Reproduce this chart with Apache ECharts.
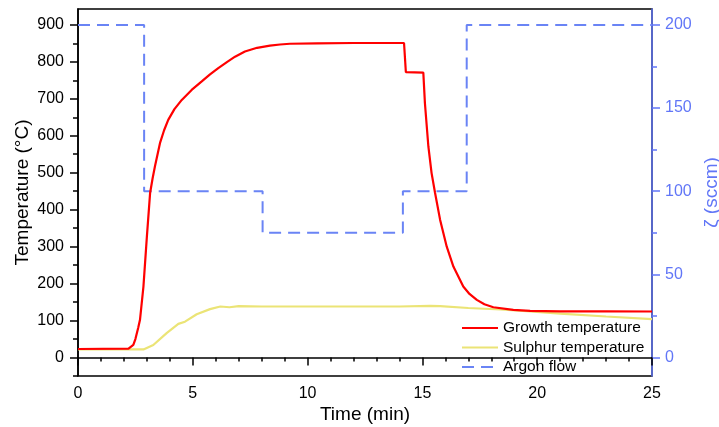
<!DOCTYPE html>
<html>
<head>
<meta charset="utf-8">
<script src="https://cdn.jsdelivr.net/npm/echarts@6/dist/echarts.min.js"></script>
<style>
html,body{margin:0;padding:0;background:#fff;}
#chart{width:719px;height:427px;}
</style>
</head>
<body>
<div id="chart"></div>
<script>
// Growth temperature (°C) vs time (min)
const growthTime = [0, 2.2, 2.41, 2.5, 2.62, 2.70, 2.85, 3.0, 3.14, 3.25, 3.35, 3.57, 3.75, 3.93, 4.2, 4.52, 4.95, 5.39, 5.75, 6.11, 6.5, 6.84, 7.27, 7.8, 8.36, 8.8, 9.23, 10.4, 12, 14.2, 14.28, 15.04, 15.11, 15.26, 15.4, 15.55, 15.77, 16.06, 16.35, 16.78, 17.05, 17.37, 17.7, 18.09, 18.96, 19.69, 21, 23, 25];
const growthTemp = [23, 24, 34, 50, 80, 102, 192, 327, 445, 485, 517, 580, 615, 643, 672, 697, 724, 747, 766, 783, 800, 814, 828, 838, 844, 847, 849, 850, 851, 851, 772, 771, 688, 571, 499, 446, 373, 300, 246, 192, 172, 156, 144, 136, 129, 126, 125, 125, 124.5];
// Sulphur temperature (°C) vs time (min)
const sulphurTime = [0, 2.85, 3.28, 3.86, 4.37, 4.66, 5.17, 5.75, 6.2, 6.6, 7.0, 8, 10, 12, 14, 15.33, 15.77, 17, 18.4, 19.69, 21, 23, 25];
const sulphurTemp = [22, 22, 34, 66, 91, 97, 117, 131, 138, 136, 139, 138, 138, 138, 138, 140, 139, 134, 130, 124.5, 119, 111, 104];
// Argon flow (sccm) vs time (min), step changes
const argonTime = [0, 2.88, 8.04, 14.15, 16.93, 25];
const argonFlow = [200, 100, 75, 100, 200, 200];
// Tick labels
const tempTicks = [0, 100, 200, 300, 400, 500, 600, 700, 800, 900];
const tempMinor = [-50, 0, 50, 100, 150, 200, 250, 300, 350, 400, 450, 500, 550, 600, 650, 700, 750, 800, 850, 900];
const flowTicks = [0, 50, 100, 150, 200];
const flowMinor = [0, 25, 50, 75, 100, 125, 150, 175, 200];

const pairs = (xs, ys) => xs.map((x, i) => [x, ys[i]]);

const BLUE = '#6176f7';
const FONT = 'Liberation Sans, Arial, sans-serif';
const tempMin = -50, tempMax = 943;
const flowMin = tempMin / 4.5, flowMax = tempMax / 4.5;

const chart = echarts.init(document.getElementById('chart'));
chart.setOption({
  animation: false,
  backgroundColor: '#fff',
  textStyle: { fontFamily: FONT },
  grid: {
    left: 78, right: 67, top: 9, bottom: 51,
    outerBoundsMode: 'none', containLabel: false,
    show: true, borderColor: '#000', borderWidth: 1.5, backgroundColor: 'transparent'
  },
  legend: {
    orient: 'vertical', left: 456, top: 315,
    itemWidth: 36, itemHeight: 14, itemGap: 3.5,
    itemStyle: { opacity: 0 },
    textStyle: { fontSize: 15.5, color: '#000', fontFamily: FONT },
    data: ['Growth temperature', 'Sulphur temperature', 'Argon flow']
  },
  xAxis: {
    type: 'value', min: 0, max: 25, interval: 5,
    name: 'Time (min)', nameLocation: 'middle', nameGap: 29, nameMoveOverlap: false,
    nameTextStyle: { fontSize: 19, color: '#000', fontFamily: FONT },
    axisLine: { lineStyle: { color: '#000', width: 1.5 } },
    axisTick: { inside: false, length: 8, lineStyle: { color: '#000', width: 1.5 } },
    minorTick: { show: true, splitNumber: 5, length: 4, lineStyle: { color: '#000', width: 1.5 } },
    axisLabel: { fontSize: 16, color: '#000', margin: 10, fontFamily: FONT },
    splitLine: { show: false }, minorSplitLine: { show: false }
  },
  yAxis: [
    {
      type: 'value', min: tempMin, max: tempMax, position: 'left',
      axisLine: { show: true, lineStyle: { color: '#000', width: 1.5 } },
      axisTick: { show: true, length: 5, customValues: tempMinor, lineStyle: { color: '#000', width: 1.5 } },
      axisLabel: { show: false },
      splitLine: { show: false }
    },
    {
      type: 'value', min: tempMin, max: tempMax, position: 'left',
      name: 'Temperature (°C)', nameLocation: 'middle', nameGap: 46, nameMoveOverlap: false,
      nameTextStyle: { fontSize: 19, color: '#000', fontFamily: FONT },
      axisLine: { show: false },
      axisTick: { show: true, length: 8, customValues: tempTicks, lineStyle: { color: '#000', width: 1.5 } },
      axisLabel: { show: true, customValues: tempTicks, fontSize: 16, color: '#000', margin: 14, fontFamily: FONT },
      splitLine: { show: false }
    },
    {
      type: 'value', min: flowMin, max: flowMax, position: 'right',
      axisLine: { show: true, lineStyle: { color: BLUE, width: 1.5 } },
      axisTick: { show: true, length: 5, customValues: flowMinor, lineStyle: { color: BLUE, width: 1.5 } },
      axisLabel: { show: false },
      splitLine: { show: false }
    },
    {
      type: 'value', min: flowMin, max: flowMax, position: 'right',
      name: 'ζ (sccm)', nameLocation: 'middle', nameGap: 50,
      nameTextStyle: { fontSize: 19, color: BLUE, fontFamily: FONT },
      axisLine: { show: false },
      axisTick: { show: true, length: 8, customValues: flowTicks, lineStyle: { color: BLUE, width: 1.5 } },
      axisLabel: { show: true, customValues: flowTicks, fontSize: 16, color: BLUE, margin: 13, fontFamily: FONT },
      splitLine: { show: false }
    }
  ],
  series: [
    {
      name: 'Growth temperature', type: 'line', yAxisIndex: 0, z: 4,
      data: pairs(growthTime, growthTemp), showSymbol: false, symbol: 'none',
      lineStyle: { color: '#ff0000', width: 2.2 }, itemStyle: { color: '#ff0000' }
    },
    {
      name: 'Sulphur temperature', type: 'line', yAxisIndex: 0, z: 3,
      data: pairs(sulphurTime, sulphurTemp), showSymbol: false, symbol: 'none',
      lineStyle: { color: '#ebe476', width: 2.2 }, itemStyle: { color: '#ebe476' }
    },
    {
      name: 'Argon flow', type: 'line', yAxisIndex: 2, z: 2, step: 'end',
      data: pairs(argonTime, argonFlow), showSymbol: false, symbol: 'none',
      lineStyle: { color: '#6a84f5', width: 2, type: [12, 7] }, itemStyle: { color: '#6a84f5' }
    }
  ]
});
</script>
</body>
</html>
